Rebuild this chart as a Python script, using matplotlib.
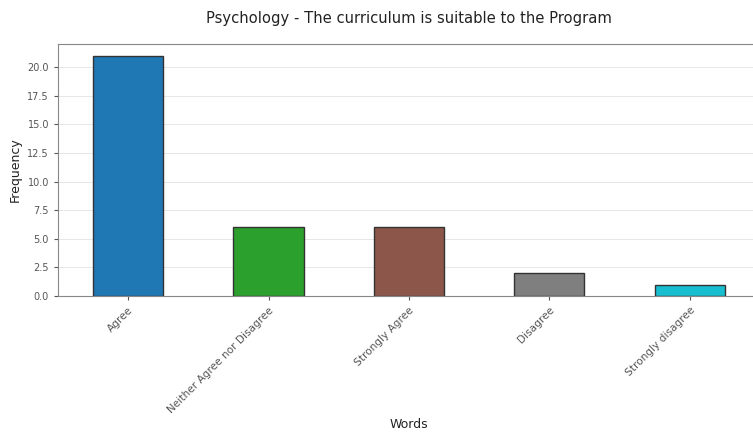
import matplotlib
matplotlib.use("Agg")
import matplotlib.pyplot as plt

categories = ["Agree", "Neither Agree nor Disagree", "Strongly Agree", "Disagree", "Strongly disagree"]
frequencies = [21, 6, 6, 2, 1]
bar_colors = ["#1f77b4", "#2ca02c", "#8c564b", "#7f7f7f", "#17becf"]

fig = plt.figure(figsize=(7.53, 4.34), dpi=100)
ax = fig.add_axes([0.077, 0.318, 0.932, 0.581])
x = range(len(categories))
ax.bar(x, frequencies, width=0.5, color=bar_colors, edgecolor="#333333", linewidth=1.0, zorder=2)
ax.set_xlim(-0.5, len(categories) - 0.5)
ax.set_ylim(0, 22.05)
ax.set_yticks([0, 2.5, 5, 7.5, 10, 12.5, 15, 17.5, 20])
ax.set_yticklabels(["0.0", "2.5", "5.0", "7.5", "10.0", "12.5", "15.0", "17.5", "20.0"], fontsize=7, color="#333333")
ax.set_xticks(list(x))
ax.set_xticklabels(categories, rotation=45, ha="right", rotation_mode="anchor", fontsize=7.6, color="#333333")
ax.grid(axis="y", color="#dddddd", linewidth=0.7, alpha=0.7, zorder=0)
ax.set_axisbelow(True)
ax.set_xlabel("Words", fontsize=9, color="#222222")
ax.xaxis.set_label_coords(0.5 * (0.5 + 0.5) - 0.0 - (0.932 * 753 - 2 * (409 - 58)) / (2 * 0.932 * 753), -0.485)
ax.set_ylabel("Frequency", fontsize=9, color="#222222")
for s in ax.spines.values():
    s.set_color("#888888")
ax.tick_params(colors="#555555", length=3)
fig.text(0.543, 0.957, "Psychology - The curriculum is suitable to the Program", ha="center", va="center", fontsize=10.6, color="#222222")
fig.savefig("out.png", dpi=100)
